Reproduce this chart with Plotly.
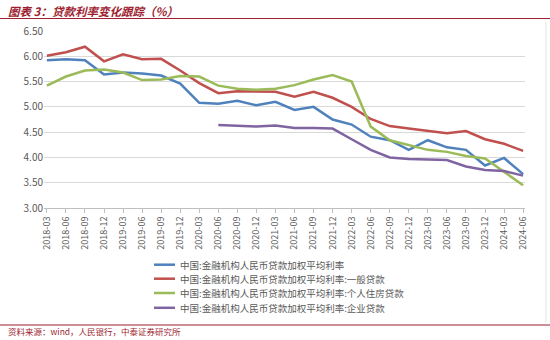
import plotly.graph_objects as go

categories = ["2018-03","2018-06","2018-09","2018-12","2019-03","2019-06","2019-09","2019-12",
              "2020-03","2020-06","2020-09","2020-12","2021-03","2021-06","2021-09","2021-12",
              "2022-03","2022-06","2022-09","2022-12","2023-03","2023-06","2023-09","2023-12",
              "2024-03","2024-06"]

avg_rate = [5.92, 5.94, 5.92, 5.64, 5.68, 5.66, 5.62, 5.46, 5.08, 5.06, 5.12, 5.03, 5.10,
            4.94, 5.00, 4.75, 4.65, 4.41, 4.34, 4.15, 4.34, 4.20, 4.15, 3.84, 3.99, 3.67]
general = [6.01, 6.08, 6.19, 5.90, 6.04, 5.94, 5.95, 5.72, 5.47, 5.27, 5.31, 5.31, 5.30,
           5.20, 5.30, 5.18, 5.00, 4.76, 4.62, 4.57, 4.53, 4.48, 4.52, 4.36, 4.27, 4.13]
mortgage = [5.42, 5.60, 5.72, 5.74, 5.68, 5.53, 5.54, 5.61, 5.60, 5.42, 5.36, 5.34, 5.36,
            5.43, 5.54, 5.63, 5.50, 4.61, 4.34, 4.25, 4.15, 4.11, 4.03, 3.98, 3.72, 3.45]
enterprise = [None]*9 + [4.64, 4.63, 4.61, 4.63, 4.58, 4.58, 4.57, 4.36, 4.15, 4.00, 3.97,
                         3.96, 3.95, 3.82, 3.75, 3.73, 3.64]

names = ["中国:金融机构人民币贷款加权平均利率",
         "中国:金融机构人民币贷款加权平均利率:一般贷款",
         "中国:金融机构人民币贷款加权平均利率:个人住房贷款",
         "中国:金融机构人民币贷款加权平均利率:企业贷款"]
colors = ["#4F81BD", "#C0504D", "#9BBB59", "#8064A2"]
series = [avg_rate, general, mortgage, enterprise]
yticks = [3.0, 3.5, 4.0, 4.5, 5.0, 5.5, 6.0, 6.5]

FONT = "Noto Sans CJK SC"
fig = go.Figure()
for name, vals, col in zip(names, series, colors):
    fig.add_trace(go.Scatter(x=categories, y=vals, name=name, mode="lines",
                             line=dict(color=col, width=2.5), connectgaps=False,
                             showlegend=False))

W, H = 550, 340
L, R, T, B = 44, 25, 31, 132
pw, ph = W - L - R, H - T - B
def px(x): return (x - L) / pw
def py(y): return (H - B - y) / ph

red = "#9E1F32"
fig.update_layout(
    width=W, height=H,
    margin=dict(l=L, r=R, t=T, b=B),
    paper_bgcolor="white", plot_bgcolor="white",
    font=dict(family=FONT, size=10, color="#595959"),
    showlegend=False,
    xaxis=dict(type="category", categoryorder="array", categoryarray=categories,
               range=[-0.15, 25.1], tickangle=-90, showgrid=False,
               showline=True, linecolor="#BFBFBF", linewidth=1,
               ticks="outside", ticklen=4, tickcolor="#BFBFBF",
               tickfont=dict(family=FONT, size=9, color="#595959")),
    yaxis=dict(range=[3.0, 6.5], tickvals=yticks, tickformat=".2f",
               showgrid=True, gridcolor="#D9D9D9", gridwidth=1, zeroline=False,
               showline=False, ticks="", tickfont=dict(family=FONT, size=10, color="#595959")),
)

# legend drawn as key lines + text
leg_rows = [264.7, 278.7, 293.0, 307.8]
for name, col, yy in zip(names, colors, leg_rows):
    fig.add_shape(type="line", xref="paper", yref="paper", x0=px(154), x1=px(175),
                  y0=py(yy), y1=py(yy), line=dict(color=col, width=2.5))
    fig.add_annotation(text=name, xref="paper", yref="paper", x=px(178), y=py(yy),
                       xanchor="left", yanchor="middle", showarrow=False,
                       font=dict(family=FONT, size=9.5, color="#595959"))

# title and source
fig.add_annotation(text="<b><i>图表 3：贷款利率变化跟踪（%）</i></b>", xref="paper", yref="paper",
                   x=px(6), y=py(11), xanchor="left", yanchor="middle", showarrow=False,
                   font=dict(family=FONT, size=11.5, color=red))
fig.add_shape(type="line", xref="paper", yref="paper", x0=px(0), x1=px(550), y0=py(18.5), y1=py(18.5),
              line=dict(color=red, width=1.2))
fig.add_shape(type="line", xref="paper", yref="paper", x0=px(0), x1=px(550), y0=py(325), y1=py(325),
              line=dict(color=red, width=1.2))
fig.add_annotation(text="资料来源：wind，人民银行，中泰证券研究所", xref="paper", yref="paper",
                   x=px(6), y=py(331), xanchor="left", yanchor="middle", showarrow=False,
                   font=dict(family=FONT, size=8.5, color=red))
fig.add_shape(type="line", xref="paper", yref="paper", x0=px(546), x1=px(546), y0=py(22), y1=py(322),
              line=dict(color="#E3E3E3", width=1))

fig.write_html("out.html")
